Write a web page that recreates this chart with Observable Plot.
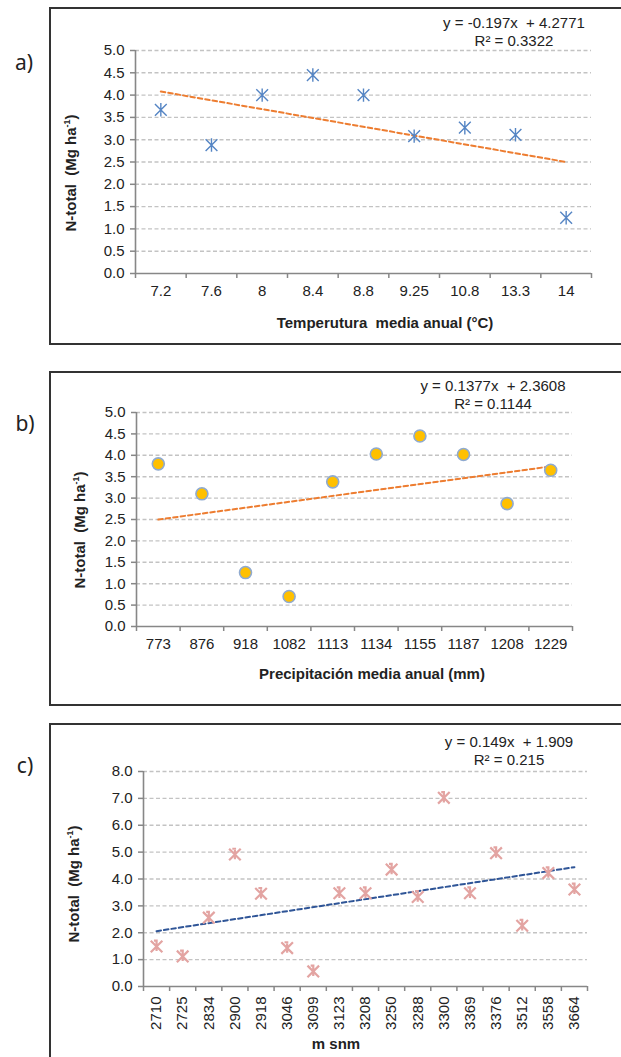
<!DOCTYPE html>
<html>
<head>
<meta charset="utf-8">
<script src="https://cdn.jsdelivr.net/npm/d3@7"></script>
<script src="https://cdn.jsdelivr.net/npm/@observablehq/plot@0.6"></script>
<style>
  html, body { margin: 0; padding: 0; background: #fff; }
  body { width: 621px; height: 1057px; overflow: hidden; position: relative; font-family: "Liberation Sans", Arial, sans-serif; color: #222; }
  .box { position: absolute; border: 2px solid #333; box-sizing: border-box; }
  .svgwrap { position: absolute; left: 0; }
  .txt { position: absolute; white-space: nowrap; transform: translate(-50%, -50%); }
  .eq { font-size: 15px; text-align: center; line-height: 18px; }
  .ttl { font-size: 15px; font-weight: bold; }
  .ylab { font-size: 15px; font-weight: bold; transform: translate(-50%, -50%) rotate(-90deg); }
  .ylab sup { font-size: 9px; vertical-align: 6px; }
  .plab { font-family: "Noto Sans", sans-serif; font-size: 21px; }
</style>
</head>
<body>
<script>
// ---------- data ----------
// a) Temperatura media anual
const catsA = ["7.2", "7.6", "8", "8.4", "8.8", "9.25", "10.8", "13.3", "14"];
const valsA = [3.67, 2.88, 4.00, 4.45, 4.00, 3.08, 3.27, 3.11, 1.25];
const trendA = [4.08, 2.50];           // trend line at first and last category
const eqA = ["y = -0.197x  + 4.2771", "R² = 0.3322"];
const yTicksA = [0, 0.5, 1, 1.5, 2, 2.5, 3, 3.5, 4, 4.5, 5];

// b) Precipitación media anual
const catsB = ["773", "876", "918", "1082", "1113", "1134", "1155", "1187", "1208", "1229"];
const valsB = [3.80, 3.10, 1.26, 0.70, 3.38, 4.03, 4.45, 4.02, 2.87, 3.65];
const trendB = [2.50, 3.74];
const eqB = ["y = 0.1377x  + 2.3608", "R² = 0.1144"];
const yTicksB = [0, 0.5, 1, 1.5, 2, 2.5, 3, 3.5, 4, 4.5, 5];

// c) m snm
const catsC = ["2710", "2725", "2834", "2900", "2918", "3046", "3099", "3123", "3208", "3250", "3288", "3300", "3369", "3376", "3512", "3558", "3664"];
const valsC = [1.49, 1.12, 2.56, 4.91, 3.45, 1.43, 0.56, 3.47, 3.47, 4.35, 3.33, 7.02, 3.47, 4.96, 2.26, 4.22, 3.61];
const trendC = [2.06, 4.44];
const eqC = ["y = 0.149x  + 1.909", "R² = 0.215"];
const yTicksC = [0, 1, 2, 3, 4, 5, 6, 7, 8];

const titles = ["Temperutura  media anual (°C)", "Precipitación media anual (mm)", "m snm"];
const panelLabels = ["a)", "b)", "c)"];

// ---------- marker symbols ----------
const starSymbol = {
  draw(ctx, size) {
    const r = Math.sqrt(size / Math.PI);
    const d = r * 0.92;
    ctx.moveTo(0, -r * 1.05); ctx.lineTo(0, r * 1.05);
    ctx.moveTo(-d, -d); ctx.lineTo(d, d);
    ctx.moveTo(-d, d); ctx.lineTo(d, -d);
  }
};
const xSymbol = {
  draw(ctx, size) {
    const r = Math.sqrt(size / Math.PI);
    ctx.moveTo(-r, -r); ctx.lineTo(r, r);
    ctx.moveTo(-r, r); ctx.lineTo(r, -r);
    ctx.moveTo(0, -r * 0.8); ctx.lineTo(0, r * 0.8);
    ctx.moveTo(-r * 0.45, -r); ctx.lineTo(r * 0.2, -r);
  }
};

const AXIS = "#878787";
const GRID = "#c3c3c3";

function panel(cfg) {
  const n = cfg.cats.length;
  const idx = d3.range(1, n + 1);
  const bounds = d3.range(0, n + 1).map(i => i + 0.5);
  const pts = cfg.vals.map((v, i) => ({x: i + 1, y: v}));
  const trend = [{x: 1, y: cfg.trend[0]}, {x: n, y: cfg.trend[1]}];
  const ymax = cfg.yTicks[cfg.yTicks.length - 1];
  const xLabelAxis = cfg.rotate
    ? Plot.axisX(idx, {tickSize: 0, tickPadding: 10, tickRotate: -90, tickFormat: i => cfg.cats[i - 1], label: null, fontSize: 15})
    : Plot.axisX(idx, {tickSize: 0, tickPadding: 12, tickFormat: i => cfg.cats[i - 1], label: null, fontSize: 15});
  return Plot.plot({
    width: 621,
    height: cfg.height,
    marginTop: cfg.mt, marginBottom: cfg.mb, marginLeft: cfg.ml, marginRight: cfg.mr,
    style: {fontFamily: "'Liberation Sans', Arial, sans-serif", fontSize: "15px", color: "#222", background: "transparent", overflow: "visible"},
    x: {type: "linear", domain: [0.5, n + 0.5]},
    y: {domain: [0, ymax]},
    marks: [
      Plot.ruleY(cfg.yTicks.filter(d => d > 0), {stroke: GRID, strokeWidth: 1.4, strokeDasharray: "4,2.5"}),
      Plot.axisY(cfg.yTicks, {tickSize: 5, tickPadding: 6, tickFormat: d => d.toFixed(1), stroke: AXIS, strokeWidth: 1.5, label: null, fontSize: 15}),
      xLabelAxis,
      Plot.axisX(bounds, {tickSize: 5, tickFormat: () => "", stroke: AXIS, strokeWidth: 1.5, label: null}),
      Plot.ruleY([0], {stroke: AXIS, strokeWidth: 1.6}),
      Plot.ruleX([0.5], {stroke: AXIS, strokeWidth: 1.6}),
      Plot.line(trend, {x: "x", y: "y", stroke: cfg.trendColor, strokeWidth: 2, strokeDasharray: "4.5,3"}),
      Plot.dot(pts, {x: "x", y: "y", ...cfg.dot})
    ]
  });
}

const panels = [
  {cats: catsA, vals: valsA, trend: trendA, yTicks: yTicksA, eq: eqA, title: titles[0], plab: panelLabels[0],
   top: 0, height: 340, mt: 50, mb: 67, ml: 135, mr: 30, trendColor: "#ED7D31",
   dot: {symbol: starSymbol, r: 6.4, stroke: "#5585C4", strokeWidth: 1.4, fill: "none"},
   box: {top: 7, height: 338}, eqPos: [514, 23], titlePos: [385, 322], ylabPos: [70, 173], plabPos: [24, 62]},
  {cats: catsB, vals: valsB, trend: trendB, yTicks: yTicksB, eq: eqB, title: titles[1], plab: panelLabels[1],
   top: 350, height: 350, mt: 62, mb: 74, ml: 136, mr: 49, trendColor: "#ED7D31",
   dot: {symbol: "circle", r: 6, stroke: "#8FAAD0", strokeWidth: 1.6, fill: "#FFC000"},
   box: {top: 371, height: 335}, eqPos: [493, 386], titlePos: [372, 673], ylabPos: [79, 530], plabPos: [25, 423]},
  {cats: catsC, vals: valsC, trend: trendC, yTicks: yTicksC, eq: eqC, title: titles[2], plab: panelLabels[2], rotate: true,
   top: 710, height: 347, mt: 61, mb: 71, ml: 143, mr: 34, trendColor: "#2F5597",
   dot: {symbol: xSymbol, r: 5.8, stroke: "#E3A4A2", strokeWidth: 2.2, fill: "none"},
   box: {top: 723, height: 360}, eqPos: [509, 742], titlePos: [336, 1043], ylabPos: [73, 884], plabPos: [25, 765]}
];

for (const p of panels) {
  const box = document.createElement("div");
  box.className = "box";
  Object.assign(box.style, {left: "49px", top: p.box.top + "px", width: "700px", height: p.box.height + "px"});
  document.body.appendChild(box);

  const wrap = document.createElement("div");
  wrap.className = "svgwrap";
  wrap.style.top = p.top + "px";
  wrap.appendChild(panel(p));
  document.body.appendChild(wrap);

  const eq = document.createElement("div");
  eq.className = "txt eq";
  eq.style.left = p.eqPos[0] + "px";
  eq.style.top = (p.eqPos[1] + 9) + "px";
  eq.innerHTML = p.eq.map(s => s.replace(/ {2}/g, "&nbsp; ")).join("<br>");
  document.body.appendChild(eq);

  const t = document.createElement("div");
  t.className = "txt ttl";
  t.style.left = p.titlePos[0] + "px";
  t.style.top = p.titlePos[1] + "px";
  t.innerHTML = p.title.replace(/ {2}/g, "&nbsp; ");
  document.body.appendChild(t);

  const yl = document.createElement("div");
  yl.className = "txt ylab";
  yl.style.left = p.ylabPos[0] + "px";
  yl.style.top = p.ylabPos[1] + "px";
  yl.innerHTML = "N-total&nbsp; (Mg ha<sup>-1</sup>)";
  document.body.appendChild(yl);

  const pl = document.createElement("div");
  pl.className = "txt plab";
  pl.style.left = p.plabPos[0] + "px";
  pl.style.top = p.plabPos[1] + "px";
  pl.textContent = p.plab;
  document.body.appendChild(pl);
}
</script>
</body>
</html>
